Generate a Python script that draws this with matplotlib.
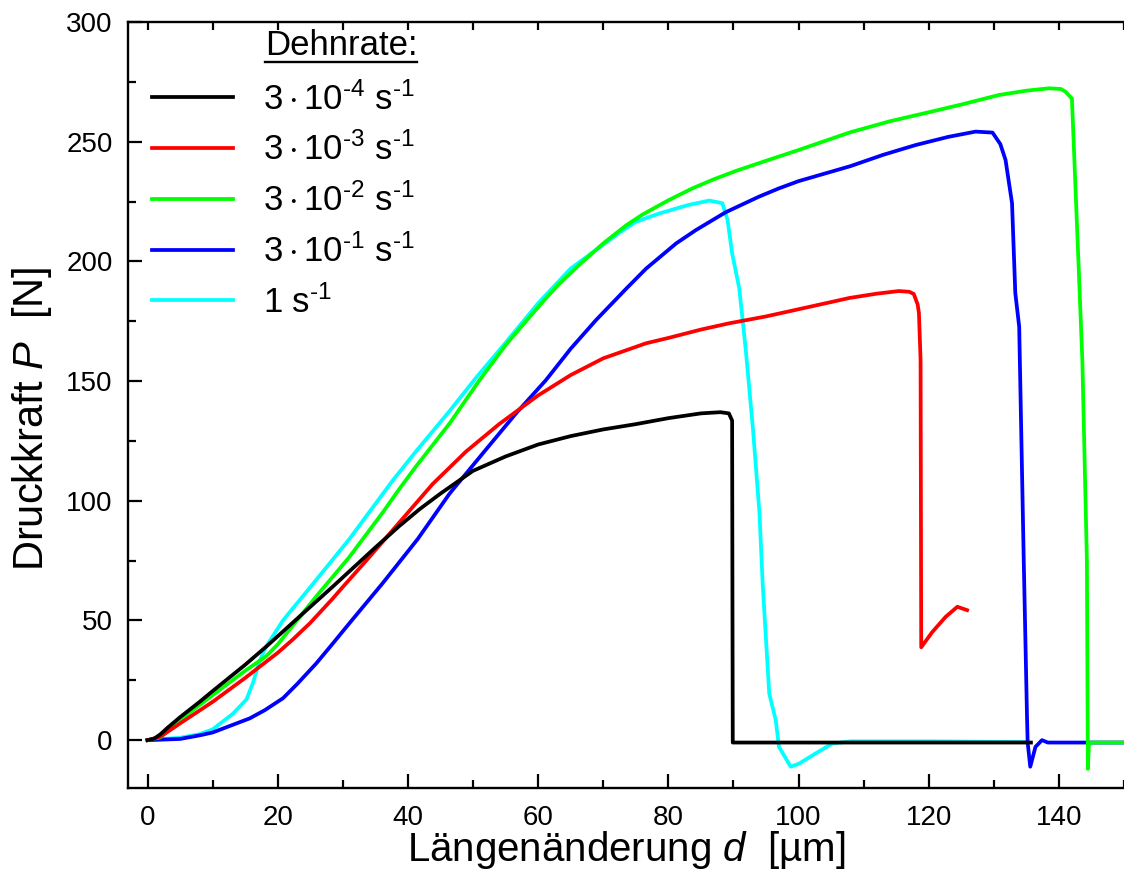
import numpy as np
import matplotlib.pyplot as plt
from matplotlib.ticker import MultipleLocator
from matplotlib.lines import Line2D

plt.rcParams['font.family'] = ['Liberation Sans', 'DejaVu Sans']
plt.rcParams['mathtext.fontset'] = 'custom'
plt.rcParams['mathtext.rm'] = 'Liberation Sans'
plt.rcParams['mathtext.it'] = 'Liberation Sans:italic'
plt.rcParams['mathtext.bf'] = 'Liberation Sans:bold'

# 3e-4 1/s
x_a = [0, 1, 2, 3, 5, 8, 10, 15, 18.2, 20, 25, 28.4, 30, 35, 38.7, 41.8, 45,
       50, 55, 60, 65, 70, 75, 80, 85, 88, 89.3, 89.8, 89.85, 89.9, 95, 100,
       110, 120, 130, 135.7]
y_a = [0, 0.6, 2.5, 5, 9.6, 16, 20.5, 31.5, 39, 43.4, 55.7, 64, 68, 80.5, 89.5,
       96.5, 103, 112.5, 118.5, 123.5, 127, 129.8, 132, 134.5, 136.5, 137,
       136.5, 133.5, 60, -1, -1, -1, -1, -1, -1, -1]

# 3e-3 1/s
x_b = [0, 2, 5, 10, 15, 20, 22.3, 25, 28.4, 30, 33.6, 38.7, 43.8, 48.9, 54, 60,
       65, 70, 76.6, 80, 85, 89.3, 95, 100, 105, 107.8, 112, 115.4, 117, 117.7,
       118.3, 118.5, 118.75, 118.8, 118.85, 120.5, 122.6, 124.4, 125.9]
y_b = [0, 1.5, 7, 16, 26, 36.5, 42, 49, 59, 64, 75, 91, 107, 120.5, 132, 144,
       152.5, 159.5, 165.8, 168, 171.5, 174.1, 177, 180, 183, 184.7, 186.5,
       187.6, 187.3, 186.4, 182, 178.4, 158.8, 100, 38.8, 45, 51.5, 55.7, 54.3]

# 3e-2 1/s
x_c = [0, 2, 5, 10, 15, 18.2, 20, 25.9, 31, 36.1, 38.7, 41.2, 46.4, 51, 55,
       58.6, 61, 63.2, 66.3, 70, 73.5, 76, 80, 83.7, 87, 90.4, 95, 100, 107.8,
       114, 120.5, 125, 130.8, 135, 138.5, 140.3, 141, 142, 143, 143.6, 144.3,
       144.45, 144.6, 145, 150]
y_c = [0, 1.2, 8.5, 18.8, 29, 35, 40, 60, 76.5, 95, 105, 114.2, 132.3, 150.4,
       165, 176.5, 184, 190.5, 198.5, 207.5, 215, 219.5, 225.5, 230.5, 234.3,
       237.8, 242, 246.5, 253.8, 258.5, 262.6, 265.5, 269.5, 271.3, 272.3, 272,
       270.9, 268, 200, 158.8, 75, -12, -2, -1, -1]

# 3e-1 1/s
x_d = [0, 5, 8, 10, 15.7, 18, 20.8, 23, 25.9, 28.5, 31, 36.1, 41.5, 46.4, 51.5,
       56.6, 61.2, 65, 68.9, 73.5, 76.6, 81.2, 84.2, 88.8, 93.9, 97, 100, 108,
       113, 118, 123, 127.2, 129.8, 131, 131.8, 132.8, 133.3, 133.9, 134.6,
       135.1, 135.2, 135.6, 136.4, 137.4, 138.3, 150]
y_d = [0, 0.5, 2, 3.2, 9.1, 12.5, 17.5, 23.5, 32, 40.5, 48.8, 65.5, 84, 103,
       119.8, 136.5, 150.4, 163.5, 175.5, 188.5, 197, 207.5, 213, 220.5, 227,
       230.5, 233.5, 239.8, 244.5, 248.6, 252, 254.2, 253.8, 249, 242.4, 224.3,
       186.8, 172.7, 75, 9.7, -1, -11.1, -2.8, 0, -1, -1]

# 1 1/s
x_e = [0, 5, 8, 10, 13.1, 15.2, 16.2, 17.2, 18.2, 20.8, 25.9, 31, 37.7, 41.2,
       46.4, 50.5, 55, 60, 65, 70, 72.5, 75, 78.6, 83, 86.3, 88.3, 89.1, 89.8,
       90.9, 91.9, 93, 94, 94.5, 95.5, 96.5, 97, 98.8, 100.1, 102.6, 105.2, 108,
       120, 135]
y_e = [0, 1, 2.5, 4.5, 11, 17, 24, 33, 39, 50, 66.9, 84, 108.6, 120.5, 137.5,
       151.5, 166, 182.5, 197, 207, 212, 216.5, 220, 223.5, 225.4, 224.3, 217.3,
       203.4, 188.7, 163, 130, 95, 65, 19.5, 8.4, -2.8, -11.1, -9.8, -5.6, -1.4,
       -0.5, -0.5, -0.8]

labels = ['$3\\cdot10^{\u20104}$ s$^{\u20101}$', '$3\\cdot10^{\u20103}$ s$^{\u20101}$',
          '$3\\cdot10^{\u20102}$ s$^{\u20101}$', '$3\\cdot10^{\u20101}$ s$^{\u20101}$',
          '1 s$^{\u20101}$']
colors = ['#000000', '#ff0000', '#00ff00', '#0000ff', '#00ffff']
series = [(x_a, y_a), (x_b, y_b), (x_c, y_c), (x_d, y_d), (x_e, y_e)]

fig = plt.figure(figsize=(11.24, 8.72), dpi=100)
ax = fig.add_axes([0.1139, 0.0963, 0.8861, 0.8785])

for i, (xs, ys) in enumerate(series):
    ax.plot(xs, ys, color=colors[i], lw=2.7, label=labels[i], zorder=10 - i)

ax.set_xlim(-3, 150)
ax.set_ylim(-20, 300)
ax.xaxis.set_major_locator(MultipleLocator(20))
ax.xaxis.set_minor_locator(MultipleLocator(10))
ax.yaxis.set_major_locator(MultipleLocator(50))
ax.yaxis.set_minor_locator(MultipleLocator(25))
ax.tick_params(which='both', direction='in', width=1.6, labelsize=20)
ax.tick_params(which='major', length=10)
ax.tick_params(which='minor', length=6)
ax.tick_params(axis='x', pad=12)
ax.tick_params(axis='y', pad=11)
for s in ['left', 'bottom', 'top']:
    ax.spines[s].set_linewidth(1.7)
ax.spines['right'].set_visible(False)

sec = ax.secondary_xaxis('top')
sec.set_xticks(np.arange(0, 151, 10))
sec.tick_params(direction='in', length=6, width=1.6, labeltop=False)
sec.spines['top'].set_visible(False)

ax.set_xlabel(r'Längenänderung $\mathit{d}$  [µm]', fontsize=29, labelpad=-1)
ax.set_ylabel(r'Druckkraft $\mathit{P}$  [N]', fontsize=30)
ax.yaxis.set_label_coords(-0.074, 0.482)

# legend heading, underlined
base_y = 1 - 55 / 872
title = fig.text(265 / 1124, base_y, 'Dehnrate:', fontsize=25,
                 ha='left', va='baseline')
ax.legend(loc='upper left', bbox_to_anchor=(0.01, 0.94), frameon=False,
          fontsize=25, handlelength=2.35, handletextpad=0.85, labelspacing=0.47,
          borderaxespad=0)

fig.canvas.draw()
bb = title.get_window_extent().transformed(fig.transFigure.inverted())
uy = base_y - 6.7 / 872
fig.add_artist(Line2D([bb.x0, bb.x1], [uy, uy], color='black', lw=1.7))

fig.savefig('out.png', dpi=100)
